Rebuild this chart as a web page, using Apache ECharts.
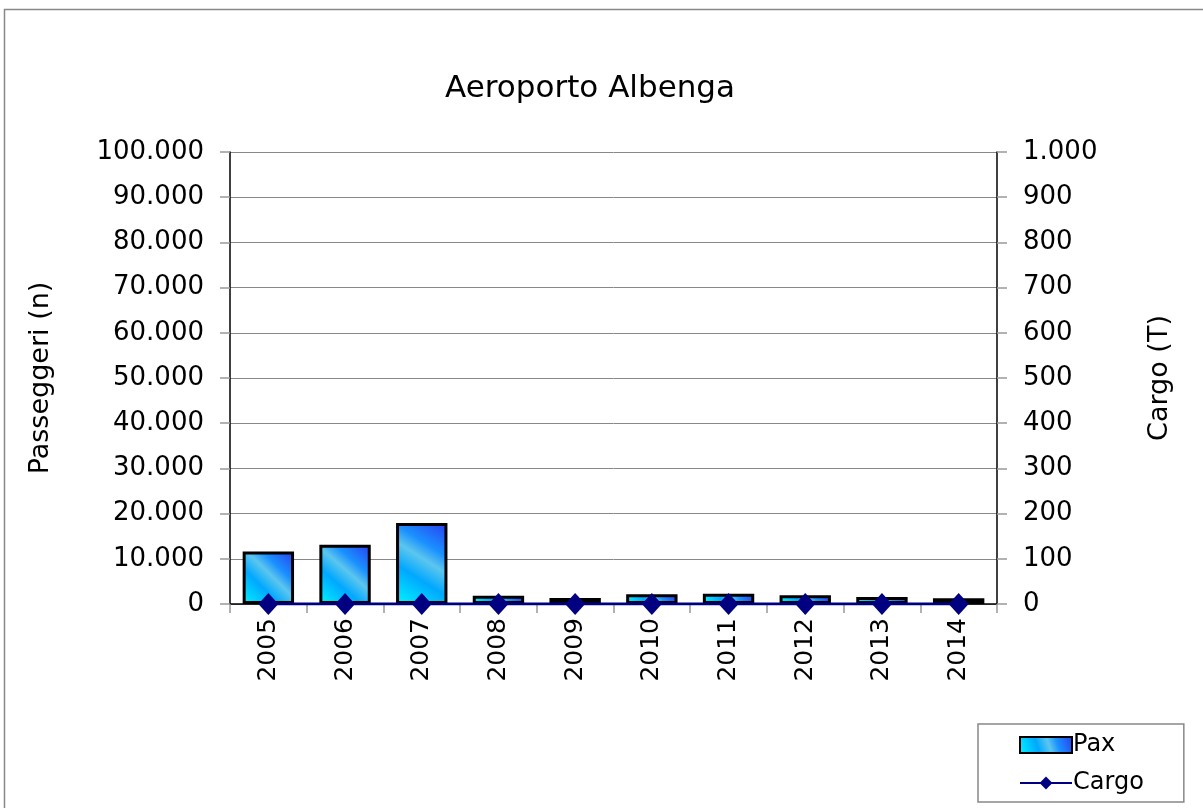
<!DOCTYPE html>
<html>
<head>
<meta charset="utf-8">
<script src="https://cdn.jsdelivr.net/npm/echarts@6/dist/echarts.min.js"></script>
<style>
  html, body { margin: 0; padding: 0; background: #fff; }
  #chart { width: 1203px; height: 808px; }
</style>
</head>
<body>
<div id="chart"></div>
<script>
// anni e valori
const years = ['2005', '2006', '2007', '2008', '2009', '2010', '2011', '2012', '2013', '2014'];
const pax = [11600, 13100, 17900, 1800, 1300, 2150, 2280, 1930, 1550, 1280];
const cargo = [0, 0, 0, 0, 0, 0, 0, 0, 0, 0];

const FONT = 'DejaVu Sans';

// separatore migliaia con il punto
const fmt = (v) => String(v).replace(/\B(?=(\d{3})+(?!\d))/g, '.');

const barColor = new echarts.graphic.LinearGradient(0, 1, 1, 0, [
  { offset: 0, color: '#00f6ff' },
  { offset: 0.35, color: '#00a8ff' },
  { offset: 0.55, color: '#5cc6ee' },
  { offset: 0.7, color: '#1a90ff' },
  { offset: 1, color: '#2a3cf0' }
]);

const chart = echarts.init(document.getElementById('chart'));

chart.setOption({
  animation: false,
  textStyle: { fontFamily: FONT, color: '#000' },
  title: {
    text: 'Aeroporto Albenga',
    left: 440,
    top: 68,
    textStyle: { fontFamily: FONT, fontSize: 31, fontWeight: 'normal', color: '#000' }
  },
  graphic: [{
    type: 'rect',
    shape: { x: 4.5, y: 9.5, width: 1210, height: 820 },
    style: { fill: 'none', stroke: '#888', lineWidth: 1.5 },
    silent: true
  }],
  legend: {
    orient: 'vertical',
    left: 978,
    top: 724,
    padding: [9, 40, 7, 41],
    itemGap: 14,
    itemWidth: 52,
    itemHeight: 16,
    borderColor: '#888',
    borderWidth: 1.5,
    backgroundColor: '#fff',
    textStyle: { fontFamily: FONT, fontSize: 24, color: '#000', padding: [0, 0, 0, -4] },
    data: [
      { name: 'Pax', icon: 'rect' },
      { name: 'Cargo' }
    ]
  },
  grid: {
    left: 230,
    right: 206,
    top: 152,
    bottom: 204
  },
  xAxis: {
    type: 'category',
    data: years,
    axisLine: { show: true, lineStyle: { color: '#000', width: 1.5 } },
    axisTick: { show: true, length: 9, lineStyle: { color: '#999', width: 1.5 } },
    axisLabel: { rotate: 90, fontSize: 25, margin: 14, color: '#000', fontFamily: FONT }
  },
  yAxis: [{
    type: 'value',
    min: 0,
    max: 100000,
    interval: 10000,
    name: 'Passeggeri (n)',
    nameLocation: 'middle',
    nameRotate: 90,
    nameGap: 176,
    nameTextStyle: { fontSize: 27, fontFamily: FONT, color: '#000' },
    axisLine: { show: true, lineStyle: { color: '#000', width: 1.5 } },
    axisTick: { show: true, length: 10, lineStyle: { color: '#999', width: 1.5 } },
    axisLabel: { fontSize: 26, margin: 26, color: '#000', fontFamily: FONT, formatter: fmt },
    splitLine: { lineStyle: { color: '#888', width: 1 } }
  }, {
    type: 'value',
    min: 0,
    max: 1000,
    interval: 100,
    name: 'Cargo (T)',
    nameLocation: 'middle',
    nameRotate: 90,
    nameGap: 149,
    nameTextStyle: { fontSize: 27, fontFamily: FONT, color: '#000' },
    axisLine: { show: true, lineStyle: { color: '#000', width: 1.5 } },
    axisTick: { show: true, length: 10, lineStyle: { color: '#999', width: 1.5 } },
    axisLabel: { fontSize: 26, margin: 26, color: '#000', fontFamily: FONT, formatter: fmt },
    splitLine: { show: false }
  }],
  series: [{
    name: 'Pax',
    type: 'bar',
    data: pax,
    barWidth: '67%',
    itemStyle: { color: barColor, borderColor: '#000', borderWidth: 3 }
  }, {
    name: 'Cargo',
    type: 'line',
    yAxisIndex: 1,
    data: cargo,
    symbol: 'diamond',
    symbolSize: [20, 22],
    lineStyle: { color: '#000080', width: 3 },
    itemStyle: { color: '#000080' }
  }]
});
</script>
</body>
</html>
